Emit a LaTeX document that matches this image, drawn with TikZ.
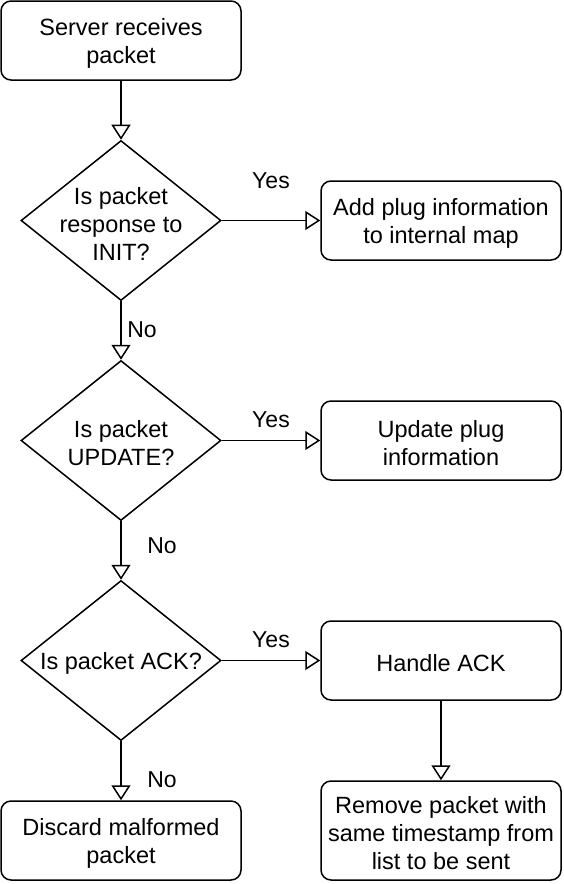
\documentclass[tikz,border=0pt]{standalone}
\usepackage{fontspec}
\setmainfont{Liberation Sans}
\usetikzlibrary{arrows.meta,shapes.geometric}
\begin{document}
\begin{tikzpicture}[x=1pt,y=-1pt,
  txt/.style={align=center,font=\fontsize{23.5}{28}\selectfont,inner sep=0pt,yshift=-3pt},
  box/.style={draw,line width=1.5pt,rounded corners=10pt,minimum width=240pt,minimum height=79pt,inner sep=0pt},
  dia/.style={draw,line width=1.5pt,diamond,minimum width=200pt,minimum height=160pt,inner sep=0pt},
  conn/.style={line width=1.5pt,-{Triangle[open,length=15pt,width=19pt,line width=1.5pt]}},
  lbl/.style={font=\fontsize{23}{26}\selectfont,inner sep=0pt}]
\useasboundingbox (0,0) rectangle (564,884);
\node[box] (b1) at (121,40.5) {};
\node[txt] (tb1) at (b1.center) {Server receives\\packet};
\node[dia] (d1) at (121,220.5) {};
\node[txt] (t1) at (d1.center) {Is packet\\response to\\INIT?};
\node[box] (b2) at (441,220.5) {};
\node[txt] (tb2) at (b2.center) {Add plug information\\to internal map};
\node[dia] (d2) at (121,440.5) {};
\node[txt] (t2) at (d2.center) {Is packet\\UPDATE?};
\node[box] (b3) at (441,440.5) {};
\node[txt] (tb3) at (b3.center) {Update plug\\information};
\node[dia] (d3) at (121,660.5) {};
\node[txt] (t3) at (d3.center) {Is packet ACK?};
\node[box] (b4) at (441,660.5) {};
\node[txt] (tb4) at (b4.center) {Handle ACK};
\node[box] (b5) at (121,840.5) {};
\node[txt] (tb5) at (b5.center) {Discard malformed\\packet};
\node[box,minimum height=99pt] (b6) at (441,830.5) {};
\node[txt] (tb6) at (b6.center) {Remove packet with\\same timestamp from\\list to be sent};
\draw[conn] (b1) -- (d1);
\draw[conn] (d1) -- (b2);
\draw[conn] (d1) -- (d2);
\draw[conn] (d2) -- (b3);
\draw[conn] (d2) -- (d3);
\draw[conn] (d3) -- (b4);
\draw[conn] (d3) -- (b5);
\draw[conn] (b4) -- (b6);
\node[lbl] (y1) at (271,181) {Yes};
\node[lbl] (n1) at (142,330) {No};
\node[lbl] (y2) at (271,420) {Yes};
\node[lbl] (n2) at (162,546) {No};
\node[lbl] (y3) at (271,640) {Yes};
\node[lbl] (n3) at (162,780) {No};
\end{tikzpicture}
\end{document}
